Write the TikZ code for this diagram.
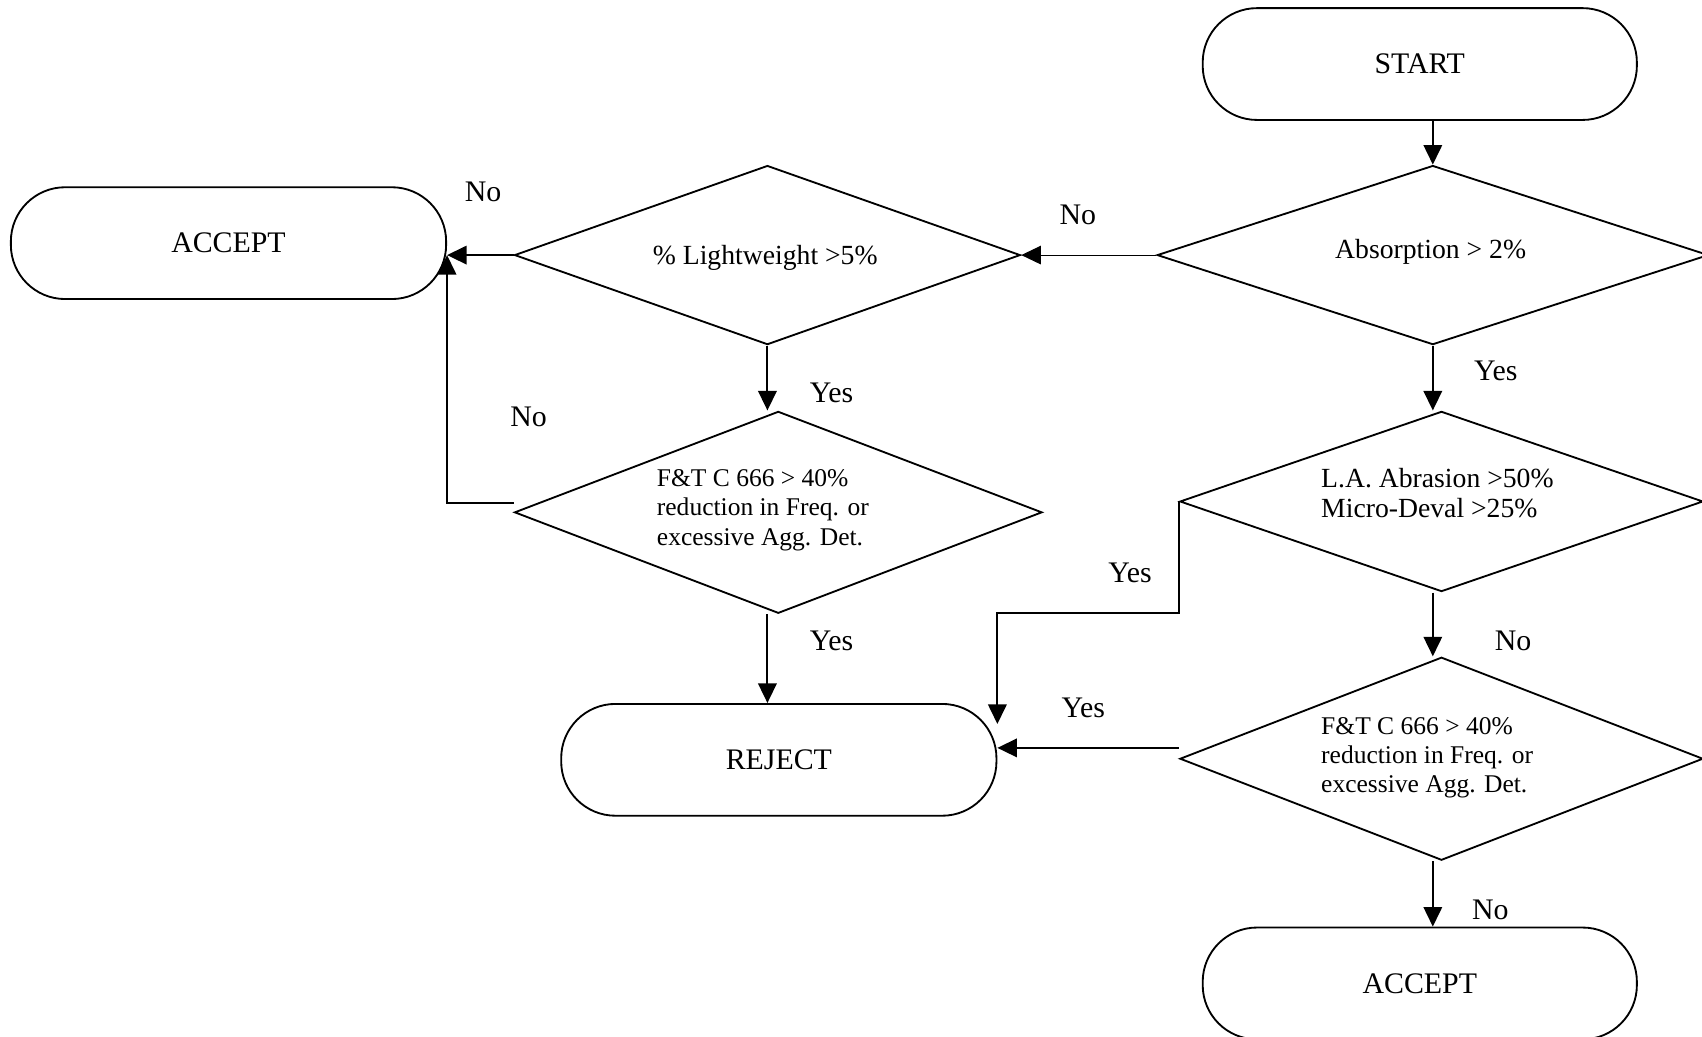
\documentclass[tikz,border=0pt]{standalone}
\usepackage{fontspec}
\setmainfont{Liberation Serif}
\usetikzlibrary{shapes.geometric,arrows.meta}
\begin{document}
\begin{tikzpicture}[x=1pt,y=-1pt,
  term/.style={draw, line width=1.7pt, rectangle, rounded corners=50pt, minimum width=400pt, minimum height=103pt, inner sep=0pt, font=\fontsize{27.5}{33}\selectfont},
  dec/.style={draw, line width=1.7pt, diamond, aspect=2.7, inner sep=0pt},
  dtext/.style={font=\fontsize{25.5}{28}\selectfont, align=left, inner sep=0pt},
  ft/.style={font=\fontsize{23.5}{27}\selectfont, align=left, inner sep=0pt},
  lbl/.style={font=\fontsize{27.5}{33}\selectfont, inner sep=0pt},
  arr/.style={line width=1.8pt, -{Triangle[length=18pt,width=17pt]}},
]
\useasboundingbox (0,0) rectangle (1568,955);

\node[term] (start) at (1308,59) {START};
\node[dec, minimum width=508pt, minimum height=165pt] (d1) at (1320,235) {};
\node[dtext] (t1) at (1318,232) {Absorption > 2\%};
\node[dec, minimum width=466pt, minimum height=165pt] (d2) at (707,235) {};
\node[dtext] (t2) at (705,238) {\% Lightweight >5\%};
\node[term, minimum width=401pt] (acc1) at (210.5,224) {ACCEPT};
\node[dec, minimum width=486pt, minimum height=186pt] (d3) at (717,472) {};
\node[ft, anchor=west] (t3) at (605,470) {F\&T C 666 > 40\%\\reduction in Freq. or\\excessive Agg. Det.};
\node[term, minimum width=401pt] (rej) at (717.5,700) {REJECT};
\node[dec, minimum width=482pt, minimum height=166pt] (d4) at (1328,462) {};
\node[dtext, anchor=west] (t4) at (1217,454) {L.A. Abrasion >50\%\\Micro-Deval >25\%};
\node[dec, minimum width=482pt, minimum height=187pt] (d5) at (1328,699) {};
\node[ft, anchor=west] (t5) at (1217,698) {F\&T C 666 > 40\%\\reduction in Freq. or\\excessive Agg. Det.};
\node[term] (acc2) at (1308,906) {ACCEPT};

\draw[arr] (start.south -| d1.north) -- (d1.north);
\draw[arr, line width=1pt] (d1.west) -- (d2.east);
\coordinate (acc1in) at (acc1.east |- d2.west);
\draw[arr] (d2.west) -- (acc1in);
\coordinate (d3out) at ([yshift=9pt]d3.west);
\draw[arr] (d3out) -| (acc1in);
\draw[arr] (d2.south) -- (d2.south |- d3.north);
\draw[arr] (d2.south |- d3.south) -- (d2.south |- rej.north);
\draw[arr] (d1.south) -- (d1.south |- d4.north);
\coordinate (rejtop) at ([yshift=33pt]rej.east);
\draw[arr] (d4.west) -- ++(0,103) -| (rejtop);
\draw[arr] (d1.south |- d4.south) -- (d1.south |- d5.north);
\coordinate (d5out) at ([yshift=10pt]d5.west);
\draw[arr] (d5out) -- (d5out -| rej.east);
\draw[arr] (d1.south |- d5.south) -- (d1.south |- acc2.north);

\node[lbl] (n1) at (993,198) {No};
\node[lbl] (n2) at (445,177) {No};
\node[lbl] (y1) at (766,362) {Yes};
\node[lbl] (n3) at (487,384) {No};
\node[lbl] (y2) at (766,590) {Yes};
\node[lbl] (y3) at (1378,342) {Yes};
\node[lbl] (y4) at (1041,528) {Yes};
\node[lbl] (n4) at (1394,590) {No};
\node[lbl] (y5) at (998,652) {Yes};
\node[lbl] (n5) at (1373,838) {No};
\end{tikzpicture}
\end{document}
